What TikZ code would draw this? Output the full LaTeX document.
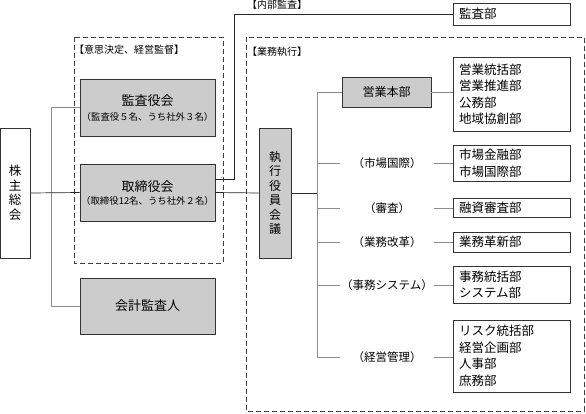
\documentclass[tikz,border=0pt]{standalone}
\usepackage{fontspec}
\setmainfont{Noto Sans CJK JP}
\begin{document}
\begin{tikzpicture}[x=1pt,y=-1pt,
  box/.style={draw=black!80, line width=0.8pt, inner sep=0pt, align=center},
  gbox/.style={box, fill=black!20},
  dbox/.style={draw=black!75, line width=0.7pt, dash pattern=on 5pt off 3pt},
  conn/.style={draw=black!85, line width=0.7pt},
  gconn/.style={draw=black!45, line width=1pt},
  lst/.style={box, minimum width=117pt, text width=105pt, align=left, inner xsep=6pt, inner ysep=1pt, font=\fontsize{12.5}{16.5}\selectfont},
  mid/.style={inner sep=0pt, minimum width=93pt, minimum height=14pt, font=\fontsize{11.5}{13}\selectfont},
  tag/.style={anchor=west, inner sep=0pt, font=\fontsize{10}{11}\selectfont},
  big/.style={font=\fontsize{13}{15}\selectfont},
]
\useasboundingbox (0,0) rectangle (586,413);

% dashed frames
\draw[dbox] (74,37) rectangle (223,263);
\draw[dbox] (246,37) rectangle (584,411);
\node[tag] (lab1) at (74,50) {【意思決定、経営監督】};
\node[tag] (lab2) at (247,52) {【業務執行】};
\node[tag] (lab3) at (247,5) {【内部監査】};

% left side
\node[box, minimum width=29.5pt, minimum height=130pt, font=\fontsize{12.5}{14.5}\selectfont] (kabu) at (15.25,193) {株\\主\\総\\会};
\node[gbox, minimum width=135pt, minimum height=57pt] (kansa) at (147.5,107.5)
  {{\fontsize{13}{15}\selectfont 監査役会}\\[3pt]{\fontsize{9.4}{11}\selectfont （監査役５名、うち社外３名）}};
\node[gbox, minimum width=135pt, minimum height=57pt] (tori) at (147.5,192.5)
  {{\fontsize{13}{15}\selectfont 取締役会}\\[1pt]{\fontsize{9.4}{11}\selectfont （取締役12名、うち社外２名）}};
\node[gbox, big, minimum width=135pt, minimum height=56pt] (kaikei) at (147.5,306) {会計監査人};

% executive committee
\node[gbox, minimum width=32pt, minimum height=130pt, font=\fontsize{12}{14.5}\selectfont] (shikko) at (275,193) {執\\行\\役\\員\\会\\議};

% audit dept
\node[lst, minimum height=22pt] (kansabu) at (511.5,14) {監査部};

% middle column
\node[gbox, minimum width=89pt, minimum height=30pt, font=\fontsize{12}{14}\selectfont] (eigyo) at (386.5,92) {営業本部};
\node[mid] (shijo) at (387,163) {（市場国際）};
\node[mid] (shinsa) at (387,208) {（審査）};
\node[mid] (kaikaku) at (387,242) {（業務改革）};
\node[mid] (jimu) at (387,285) {（事務システム）};
\node[mid] (keiei) at (387,357) {（経営管理）};

% right column
\node[lst, minimum height=74pt] (r1) at (511.5,94) {営業統括部\\営業推進部\\公務部\\地域協創部};
\node[lst, minimum height=36pt] (r2) at (511.5,163) {市場金融部\\市場国際部};
\node[lst, minimum height=19pt] (r3) at (511.5,207.5) {融資審査部};
\node[lst, minimum height=20pt] (r4) at (511.5,242) {業務革新部};
\node[lst, minimum height=37pt] (r5) at (511.5,284.5) {事務統括部\\システム部};
\node[lst, minimum height=72pt] (r6) at (511.5,356) {リスク統括部\\経営企画部\\人事部\\庶務部};

% connectors
\coordinate (v1) at (51,107.5);
\draw[gconn] (kansa.west) -- (v1) |- (kaikei.west);
\draw[conn] (kabu.east) -- (tori.west);
\draw[conn] (tori.east) -- (shikko.west);
\coordinate (ia) at (234,179);
\draw[conn] (ia -| tori.east) -- (ia) |- (kansabu.west);

\coordinate (ttop) at (317,92);
\coordinate (tbot) at (317,357);
\draw[conn] (shikko.east) -- (shikko.east -| ttop);
\draw[gconn] (ttop) -- (tbot);
\draw[gconn] (ttop) -- (eigyo.west);
\draw[gconn] (ttop |- shijo.west) -- (shijo.west);
\draw[gconn] (ttop |- shinsa.west) -- (shinsa.west);
\draw[gconn] (ttop |- kaikaku.west) -- (kaikaku.west);
\draw[gconn] (ttop |- jimu.west) -- (jimu.west);
\draw[gconn] (tbot) -- (keiei.west);

\draw[gconn] (eigyo.east) -- (eigyo.east -| r1.west);
\draw[gconn] (shijo.east) -- (shijo.east -| r2.west);
\draw[gconn] (shinsa.east) -- (shinsa.east -| r3.west);
\draw[gconn] (kaikaku.east) -- (kaikaku.east -| r4.west);
\draw[gconn] (jimu.east) -- (jimu.east -| r5.west);
\draw[gconn] (keiei.east) -- (keiei.east -| r6.west);
\end{tikzpicture}
\end{document}
